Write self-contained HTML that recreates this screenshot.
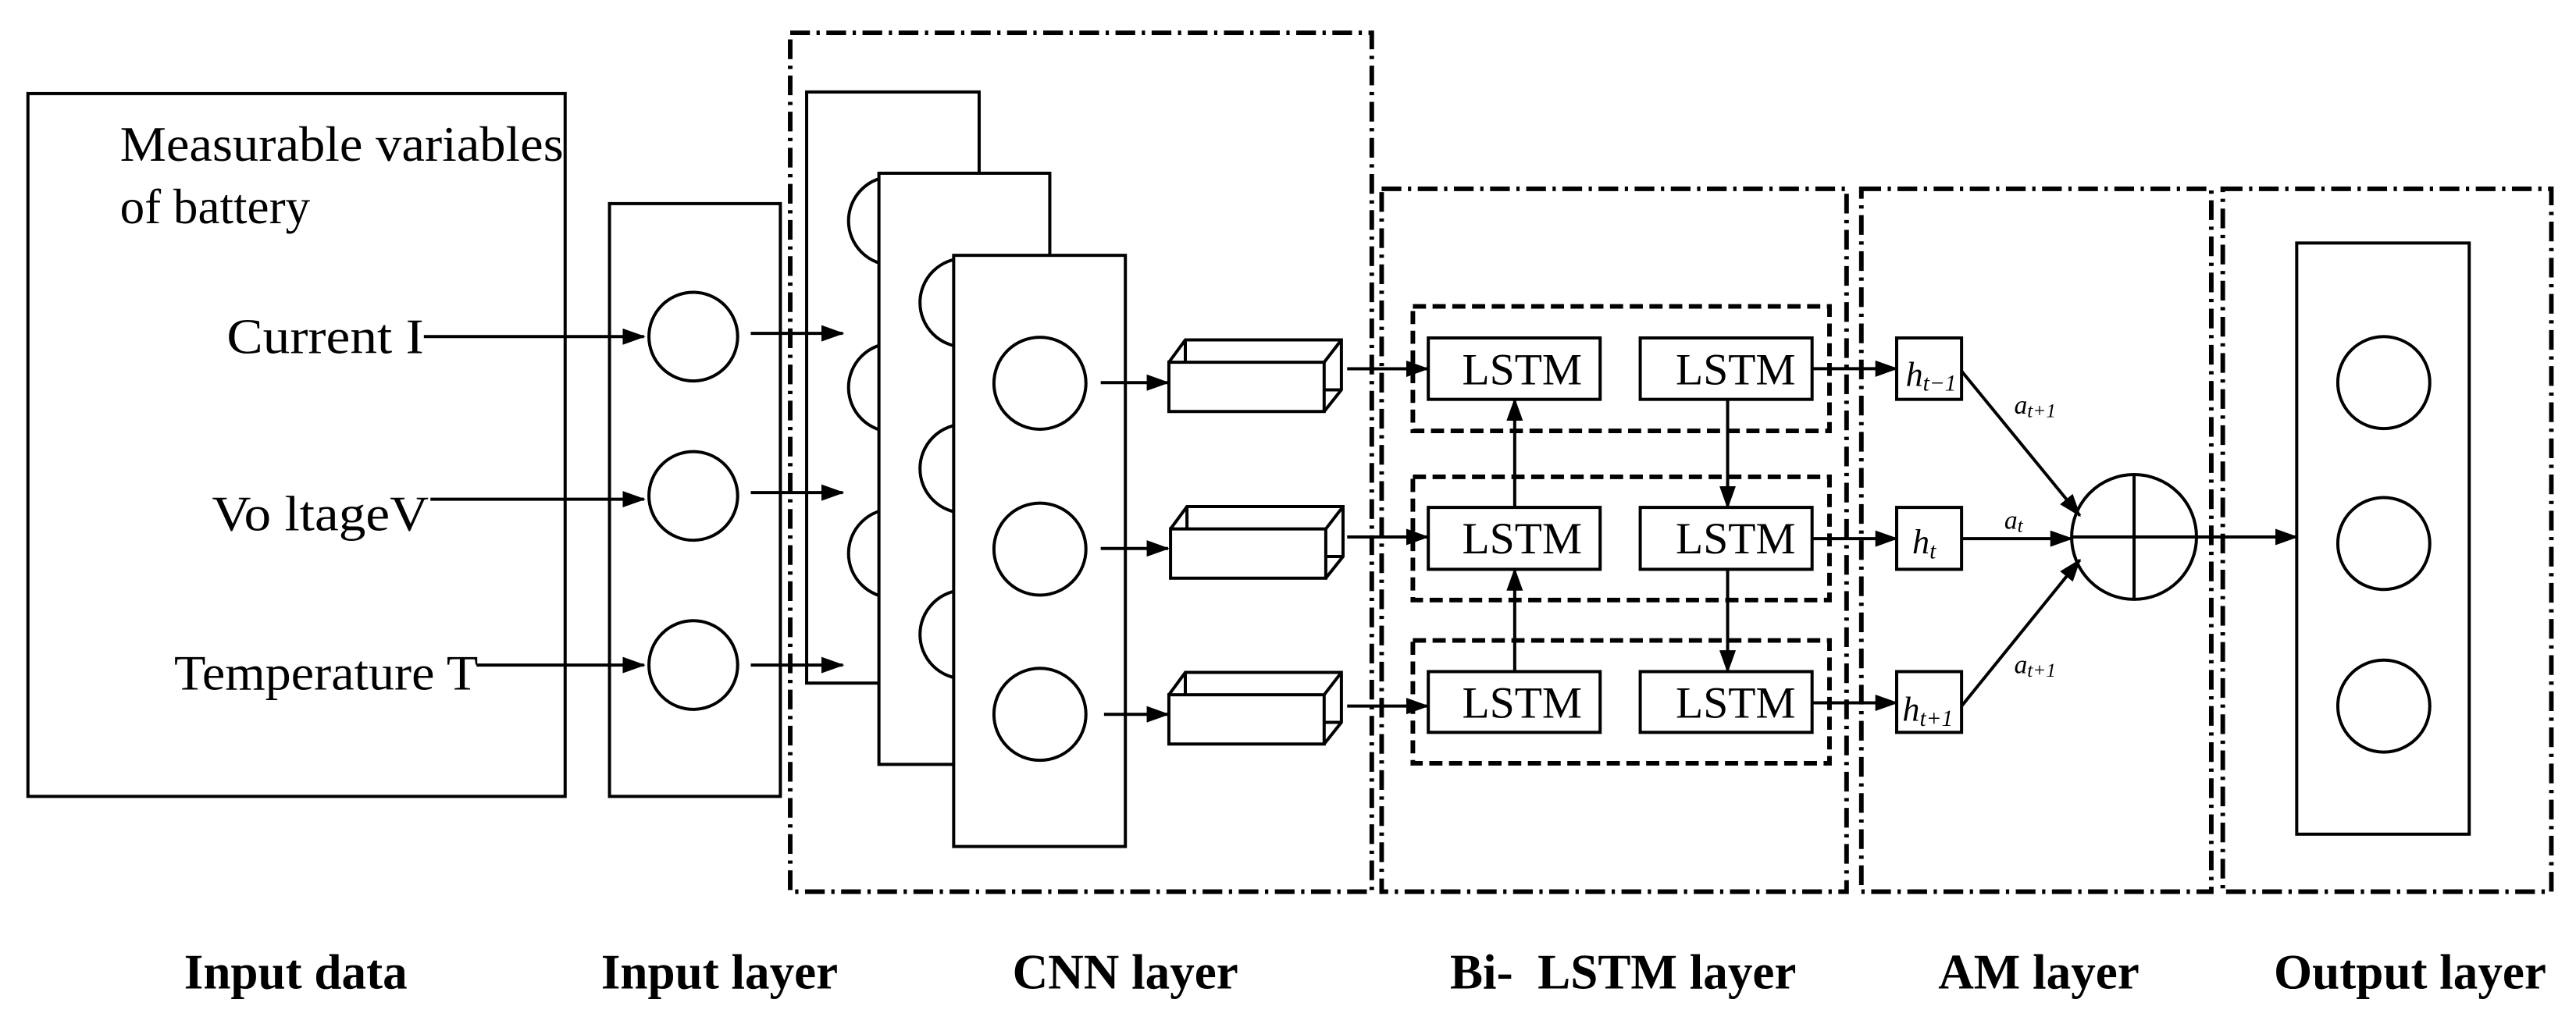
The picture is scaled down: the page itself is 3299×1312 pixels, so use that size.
<!DOCTYPE html>
<html><head><meta charset="utf-8"><style>html,body{margin:0;padding:0;background:#fff}svg{display:block}</style></head>
<body>
<svg width="3299" height="1312" viewBox="0 0 1568 623.6" preserveAspectRatio="none" xmlns="http://www.w3.org/2000/svg" font-family="'Liberation Serif', serif">
<defs>
<marker id="ah" markerWidth="14" markerHeight="10" refX="13" refY="5" orient="auto" markerUnits="userSpaceOnUse">
<path d="M0,0 L14,5 L0,10 Z" fill="#000"/>
</marker>
</defs>
<g fill="none" stroke="#000" stroke-width="1.9">
<rect x="17" y="57" width="327" height="428" fill="#fff"/>
<rect x="371" y="124" width="104" height="361"/>
<circle cx="422" cy="205" r="27"/><circle cx="422" cy="302" r="27"/><circle cx="422" cy="405" r="27"/>
<line x1="258" y1="205" x2="392" y2="205" marker-end="url(#ah)"/>
<line x1="262" y1="304" x2="392" y2="304" marker-end="url(#ah)"/>
<line x1="290" y1="405" x2="392" y2="405" marker-end="url(#ah)"/>
<g stroke-width="2.8" stroke-dasharray="12 4 2 4">
<rect x="481" y="20" width="354" height="523"/>
<rect x="841" y="115" width="283" height="428"/>
<rect x="1133" y="115" width="213" height="428"/>
<rect x="1353" y="115" width="200" height="428"/>
</g>
<rect x="491" y="56" width="105" height="360" fill="#fff"/>
<circle cx="543.5" cy="134.5" r="27"/><circle cx="543.5" cy="236" r="27"/><circle cx="543.5" cy="337" r="27"/>
<rect x="535" y="105.5" width="104" height="360" fill="#fff"/>
<circle cx="587" cy="184.3" r="27"/><circle cx="587" cy="285.4" r="27"/><circle cx="587" cy="386.4" r="27"/>
<rect x="580.5" y="155.5" width="104.5" height="360" fill="#fff"/>
<circle cx="633" cy="233.4" r="28"/><circle cx="633" cy="334.4" r="28"/><circle cx="633" cy="435" r="28"/>
<line x1="457" y1="203" x2="513" y2="203" marker-end="url(#ah)"/>
<line x1="457" y1="300" x2="513" y2="300" marker-end="url(#ah)"/>
<line x1="457" y1="405" x2="513" y2="405" marker-end="url(#ah)"/>
<line x1="670" y1="233" x2="711" y2="233" marker-end="url(#ah)"/>
<line x1="670" y1="334" x2="711" y2="334" marker-end="url(#ah)"/>
<line x1="672" y1="435" x2="711" y2="435" marker-end="url(#ah)"/>
<g id="b1">
<rect x="711.5" y="220.6" width="94.5" height="30"/>
<path d="M711.5,220.6 L721.5,207 L816.5,207 L816.5,237.4 L806,250.6 M806,220.6 L816.5,207 M721.5,207 L721.5,220.6 M806,237.4 L816.5,237.4"/>
</g>
<use href="#b1" transform="translate(1,101.5)"/>
<use href="#b1" transform="translate(0,202.5)"/>
<line x1="820" y1="224.6" x2="869" y2="224.6" marker-end="url(#ah)"/>
<line x1="820" y1="327" x2="869" y2="327" marker-end="url(#ah)"/>
<line x1="820" y1="430" x2="869" y2="430" marker-end="url(#ah)"/>
<g stroke-width="2.8" stroke-dasharray="8 4">
<rect x="860" y="186.6" width="253.6" height="75.8"/>
<rect x="860" y="290.4" width="253.6" height="75"/>
<rect x="860" y="390" width="253.6" height="74.8"/>
</g>
<rect x="869.4" y="205.8" width="104.6" height="37.4"/><rect x="998.4" y="205.8" width="104.6" height="37.4"/>
<rect x="869.4" y="309" width="104.6" height="37.7"/><rect x="998.4" y="309" width="104.6" height="37.7"/>
<rect x="869.4" y="409" width="104.6" height="37"/><rect x="998.4" y="409" width="104.6" height="37"/>
<line x1="922" y1="309" x2="922" y2="243.2" marker-end="url(#ah)"/>
<line x1="922" y1="409" x2="922" y2="346.7" marker-end="url(#ah)"/>
<line x1="1051.6" y1="243.2" x2="1051.6" y2="309" marker-end="url(#ah)"/>
<line x1="1051.6" y1="346.7" x2="1051.6" y2="409" marker-end="url(#ah)"/>
<line x1="1103" y1="224.5" x2="1154.5" y2="224.5" marker-end="url(#ah)"/>
<line x1="1103" y1="328" x2="1154.5" y2="328" marker-end="url(#ah)"/>
<line x1="1103" y1="428" x2="1154.5" y2="428" marker-end="url(#ah)"/>
<rect x="1154.5" y="205.8" width="39.5" height="37.4"/>
<rect x="1154.5" y="309" width="39.5" height="37.7"/>
<rect x="1154.5" y="409" width="39.5" height="37"/>
<line x1="1194" y1="226" x2="1266" y2="314" marker-end="url(#ah)"/>
<line x1="1194" y1="328" x2="1261" y2="328" marker-end="url(#ah)"/>
<line x1="1194" y1="430" x2="1266" y2="341" marker-end="url(#ah)"/>
<circle cx="1299" cy="327" r="38"/>
<line x1="1261" y1="327" x2="1337" y2="327"/><line x1="1299" y1="289" x2="1299" y2="365"/>
<line x1="1337" y1="327" x2="1398" y2="327" marker-end="url(#ah)"/>
<rect x="1398" y="148" width="105" height="360"/>
<circle cx="1451" cy="233" r="28"/><circle cx="1451" cy="331" r="28"/><circle cx="1451" cy="430" r="28"/>
</g>
<g font-size="30" fill="#000">
<text x="73" y="98" textLength="270" lengthAdjust="spacingAndGlyphs">Measurable variables</text>
<text x="73" y="136">of battery</text>
<text x="138" y="215" textLength="120" lengthAdjust="spacingAndGlyphs">Current I</text>
<text x="129" y="323" textLength="132" lengthAdjust="spacingAndGlyphs">Vo ltageV</text>
<text x="106" y="420" textLength="185" lengthAdjust="spacingAndGlyphs">Temperature T</text>
</g>
<g font-size="27" fill="#000">
<text x="890" y="234" textLength="73" lengthAdjust="spacingAndGlyphs">LSTM</text><text x="1020" y="234" textLength="73" lengthAdjust="spacingAndGlyphs">LSTM</text>
<text x="890" y="337" textLength="73" lengthAdjust="spacingAndGlyphs">LSTM</text><text x="1020" y="337" textLength="73" lengthAdjust="spacingAndGlyphs">LSTM</text>
<text x="890" y="437" textLength="73" lengthAdjust="spacingAndGlyphs">LSTM</text><text x="1020" y="437" textLength="73" lengthAdjust="spacingAndGlyphs">LSTM</text>
</g>
<g font-style="italic" fill="#000">
<text x="1160" y="235" font-size="21">h<tspan font-size="14" dy="3">t−1</tspan></text>
<text x="1164" y="337" font-size="21">h<tspan font-size="14" dy="3">t</tspan></text>
<text x="1158" y="439" font-size="21">h<tspan font-size="14" dy="3">t+1</tspan></text>
<text x="1226" y="252" font-size="16">a<tspan font-size="12" dy="2">t+1</tspan></text>
<text x="1220" y="322" font-size="16">a<tspan font-size="12" dy="2">t</tspan></text>
<text x="1226" y="410" font-size="16">a<tspan font-size="12" dy="2">t+1</tspan></text>
</g>
<g font-size="30" font-weight="bold" fill="#000" text-anchor="middle">
<text x="180" y="602">Input data</text>
<text x="438" y="602">Input layer</text>
<text x="685" y="602">CNN layer</text>
<text x="988" y="602" xml:space="preserve">Bi-  LSTM layer</text>
<text x="1241" y="602">AM layer</text>
<text x="1467" y="602">Output layer</text>
</g>
</svg>
</body></html>
